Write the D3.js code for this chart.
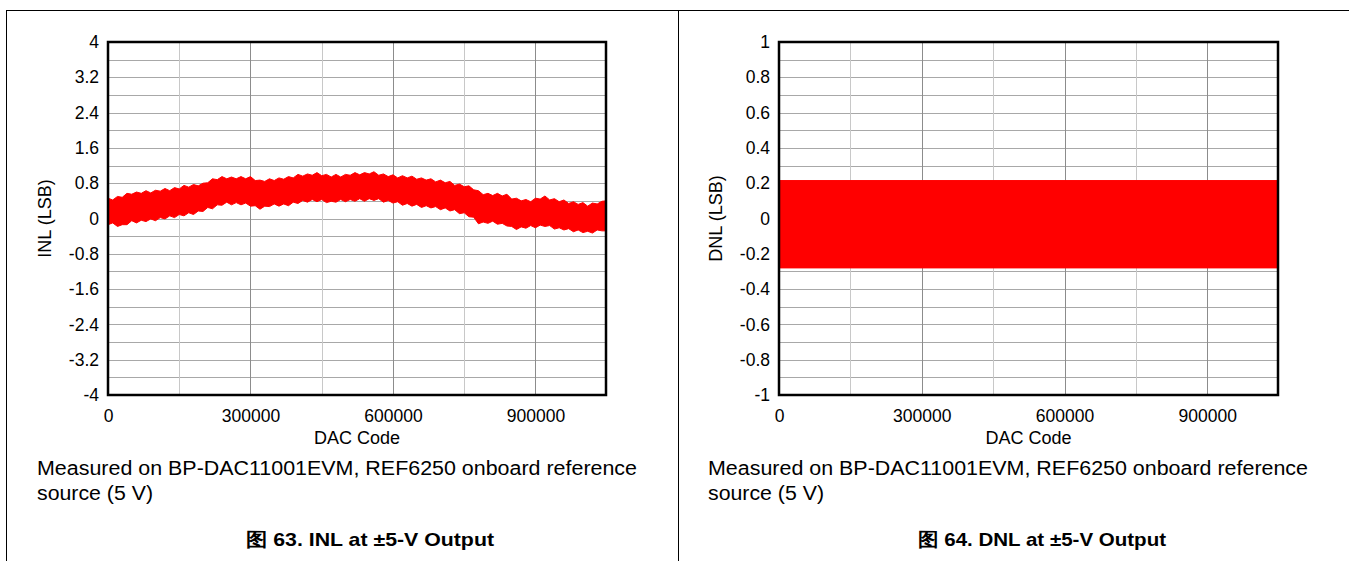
<!DOCTYPE html>
<html>
<head>
<meta charset="utf-8">
<title>INL / DNL at ±5-V Output</title>
<style>
  body { margin: 0; background: #fff; }
  svg text { font-family: "Liberation Sans", Arial, sans-serif; fill: #000; }
</style>
</head>
<body>
<div id="chart"></div>
<script src="https://d3js.org/d3.v7.min.js"></script>
<script>
// INL band edges, every 10000 codes (LSB)
var inlCodes = [0, 10000, 20000, 30000, 40000, 50000, 60000, 70000, 80000, 90000,
  100000, 110000, 120000, 130000, 140000, 150000, 160000, 170000, 180000, 190000,
  200000, 210000, 220000, 230000, 240000, 250000, 260000, 270000, 280000, 290000,
  300000, 310000, 320000, 330000, 340000, 350000, 360000, 370000, 380000, 390000,
  400000, 410000, 420000, 430000, 440000, 450000, 460000, 470000, 480000, 490000,
  500000, 510000, 520000, 530000, 540000, 550000, 560000, 570000, 580000, 590000,
  600000, 610000, 620000, 630000, 640000, 650000, 660000, 670000, 680000, 690000,
  700000, 710000, 720000, 730000, 740000, 750000, 760000, 770000, 780000, 790000,
  800000, 810000, 820000, 830000, 840000, 850000, 860000, 870000, 880000, 890000,
  900000, 910000, 920000, 930000, 940000, 950000, 960000, 970000, 980000, 990000,
  1000000, 1010000, 1020000, 1030000, 1040000, 1048575];
var inlUpper = [0.46, 0.42, 0.50, 0.48, 0.57, 0.55, 0.60, 0.57, 0.63, 0.58,
  0.64, 0.62, 0.68, 0.63, 0.70, 0.67, 0.75, 0.71, 0.77, 0.74,
  0.80, 0.81, 0.90, 0.88, 0.95, 0.90, 0.94, 0.90, 0.95, 0.90,
  0.95, 0.86, 0.87, 0.84, 0.90, 0.86, 0.92, 0.89, 0.95, 0.92,
  1.00, 0.96, 1.01, 0.98, 1.04, 0.97, 1.00, 0.94, 1.00, 0.94,
  1.00, 0.98, 1.04, 0.99, 1.04, 1.01, 1.06, 0.98, 1.01, 0.95,
  0.99, 0.92, 0.97, 0.92, 0.96, 0.89, 0.92, 0.87, 0.90, 0.83,
  0.87, 0.81, 0.84, 0.75, 0.78, 0.72, 0.74, 0.65, 0.63, 0.54,
  0.57, 0.52, 0.57, 0.51, 0.55, 0.44, 0.46, 0.40, 0.43, 0.38,
  0.46, 0.44, 0.51, 0.42, 0.45, 0.38, 0.42, 0.34, 0.38, 0.32,
  0.36, 0.28, 0.35, 0.33, 0.39, 0.40];
var inlLower = [-0.14, -0.10, -0.18, -0.14, -0.14, -0.05, -0.10, -0.04, -0.07, -0.01,
  -0.05, 0.02, -0.01, 0.06, 0.02, 0.09, 0.06, 0.13, 0.09, 0.17,
  0.16, 0.25, 0.22, 0.31, 0.30, 0.37, 0.31, 0.36, 0.31, 0.35,
  0.28, 0.29, 0.21, 0.28, 0.27, 0.33, 0.28, 0.33, 0.29, 0.37,
  0.34, 0.41, 0.37, 0.43, 0.38, 0.43, 0.36, 0.39, 0.37, 0.43,
  0.38, 0.43, 0.39, 0.45, 0.39, 0.45, 0.41, 0.45, 0.37, 0.41,
  0.35, 0.38, 0.30, 0.34, 0.28, 0.32, 0.25, 0.29, 0.24, 0.27,
  0.20, 0.24, 0.17, 0.20, 0.11, 0.13, 0.04, 0.03, -0.12, -0.08,
  -0.11, -0.06, -0.13, -0.11, -0.17, -0.18, -0.25, -0.19, -0.22, -0.16,
  -0.21, -0.15, -0.18, -0.16, -0.24, -0.21, -0.26, -0.23, -0.30, -0.26,
  -0.32, -0.29, -0.33, -0.26, -0.28, -0.28];

// DNL band
var dnlCodes = [0, 1048575];
var dnlUpper = [0.215, 0.215];
var dnlLower = [-0.28, -0.28];

// axes
var codeMax = 1048575;
var codeTicks = [0, 300000, 600000, 900000];
var codeMinor = [150000, 450000, 750000];
var inlTicks = [-4, -3.2, -2.4, -1.6, -0.8, 0, 0.8, 1.6, 2.4, 3.2, 4];
var dnlTicks = [-1, -0.8, -0.6, -0.4, -0.2, 0, 0.2, 0.4, 0.6, 0.8, 1];

var note = ["Measured on BP-DAC11001EVM, REF6250 onboard reference", "source (5 V)"];

var svg = d3.select("#chart").append("svg")
    .attr("width", 1349)
    .attr("height", 561);

// page frame
svg.append("line").attr("x1", 6).attr("y1", 10.5).attr("x2", 1349).attr("y2", 10.5)
    .attr("stroke", "#000").attr("stroke-width", 1);
svg.append("line").attr("x1", 6.5).attr("y1", 10).attr("x2", 6.5).attr("y2", 561)
    .attr("stroke", "#000").attr("stroke-width", 1);
svg.append("line").attr("x1", 678.5).attr("y1", 10).attr("x2", 678.5).attr("y2", 561)
    .attr("stroke", "#000").attr("stroke-width", 1);

function panel(opt) {
    var x = d3.scaleLinear().domain([0, codeMax]).range([opt.left, opt.right]);
    var y = d3.scaleLinear().domain([opt.ticks[0], opt.ticks[opt.ticks.length - 1]]).range([395, 42]);
    var g = svg.append("g");

    // horizontal grid (every half tick step)
    var step = opt.ticks[1] - opt.ticks[0];
    var hGrid = [];
    opt.ticks.forEach(function (t, i) {
        hGrid.push(t);
        if (i < opt.ticks.length - 1) hGrid.push(t + step / 2);
    });
    g.selectAll(".hg").data(hGrid).enter().append("line")
        .attr("x1", opt.left).attr("x2", opt.right)
        .attr("y1", function (d) { return Math.round(y(d)) + 0.5; })
        .attr("y2", function (d) { return Math.round(y(d)) + 0.5; })
        .attr("stroke", "#a8a8a8").attr("stroke-width", 1);

    // vertical grid
    g.selectAll(".vmin").data(codeMinor).enter().append("line")
        .attr("x1", function (d) { return Math.round(x(d)) + 0.5; })
        .attr("x2", function (d) { return Math.round(x(d)) + 0.5; })
        .attr("y1", 42).attr("y2", 395)
        .attr("stroke", "#c8c8c8").attr("stroke-width", 1);
    g.selectAll(".vmaj").data(codeTicks.slice(1)).enter().append("line")
        .attr("x1", function (d) { return Math.round(x(d)) + 0.5; })
        .attr("x2", function (d) { return Math.round(x(d)) + 0.5; })
        .attr("y1", 42).attr("y2", 395)
        .attr("stroke", "#8c8c8c").attr("stroke-width", 1);

    // data band
    var rows = opt.codes.map(function (c, i) { return { c: c, hi: opt.upper[i], lo: opt.lower[i] }; });
    var area = d3.area()
        .x(function (d) { return x(d.c); })
        .y0(function (d) { return y(d.lo); })
        .y1(function (d) { return y(d.hi); });
    g.append("path").datum(rows)
        .attr("d", area)
        .attr("fill", "#ff0000")
        .attr("stroke", "#ff0000")
        .attr("stroke-width", 1);

    // plot border
    g.append("rect")
        .attr("x", opt.left).attr("y", 42)
        .attr("width", opt.right - opt.left).attr("height", 353)
        .attr("fill", "none").attr("stroke", "#000").attr("stroke-width", 2.5);

    // y axis labels
    var ya = d3.axisLeft(y).tickValues(opt.ticks).tickSize(0).tickPadding(9)
        .tickFormat(function (d) { return String(d); });
    g.append("g").attr("transform", "translate(" + opt.left + ",0)").call(ya)
        .call(function (s) { s.select(".domain").remove(); })
        .selectAll("text").style("font-size", "17.5px").attr("fill", "#000");

    // x axis labels
    var xa = d3.axisBottom(x).tickValues(codeTicks).tickSize(0).tickPadding(15)
        .tickFormat(function (d) { return String(d); });
    g.append("g").attr("transform", "translate(0,395)").call(xa)
        .call(function (s) { s.select(".domain").remove(); })
        .selectAll("text").style("font-size", "17.5px").attr("fill", "#000");

    g.append("text")
        .attr("x", (opt.left + opt.right) / 2).attr("y", 444)
        .attr("text-anchor", "middle").style("font-size", "18px")
        .text("DAC Code");
    g.append("text")
        .attr("transform", "translate(" + (opt.left - 57) + "," + y(0) + ") rotate(-90)")
        .attr("text-anchor", "middle").style("font-size", "18px")
        .text(opt.title);

    // caption
    g.append("text").attr("x", opt.left - 71).attr("y", 475)
        .style("font-size", "20px")
        .attr("textLength", 600).attr("lengthAdjust", "spacingAndGlyphs")
        .text(note[0]);
    g.append("text").attr("x", opt.left - 71).attr("y", 500)
        .style("font-size", "20px")
        .attr("textLength", 116).attr("lengthAdjust", "spacingAndGlyphs")
        .text(note[1]);
    g.append("text").attr("x", opt.capX).attr("y", 546)
        .attr("text-anchor", "middle")
        .style("font-size", "19px").style("font-weight", "bold")
        .attr("textLength", 248).attr("lengthAdjust", "spacingAndGlyphs")
        .text(opt.caption);
}

panel({ left: 108, right: 606, ticks: inlTicks, codes: inlCodes, upper: inlUpper, lower: inlLower,
        title: "INL (LSB)", caption: "图 63. INL at ±5-V Output", capX: 370 });
panel({ left: 779, right: 1278, ticks: dnlTicks, codes: dnlCodes, upper: dnlUpper, lower: dnlLower,
        title: "DNL (LSB)", caption: "图 64. DNL at ±5-V Output", capX: 1042 });
</script>
</body>
</html>
